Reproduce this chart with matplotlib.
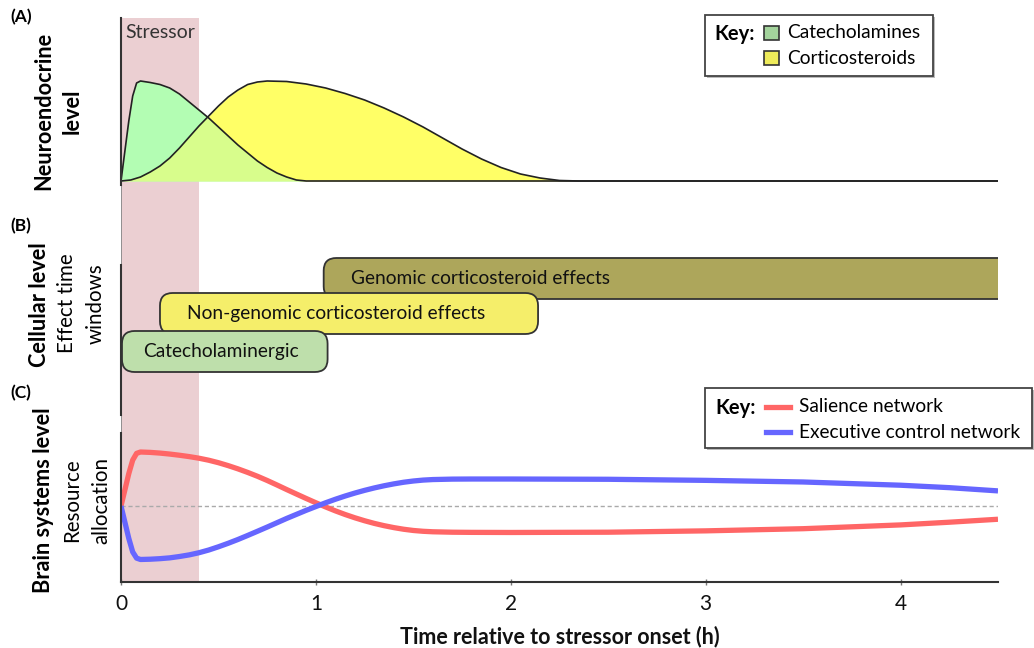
import matplotlib
matplotlib.use("Agg")
import matplotlib.pyplot as plt
from matplotlib.patches import FancyBboxPatch, Rectangle
from matplotlib.lines import Line2D

plt.rcParams['font.family'] = ['Lato', 'DejaVu Sans']

# ---- data ----
stressor_end = 0.4   # h

# (A) neuroendocrine levels (relative units)
cate_t = [0, 0.02, 0.04, 0.06, 0.08, 0.1, 0.15, 0.2, 0.25, 0.3, 0.35, 0.4, 0.45, 0.5,
          0.55, 0.6, 0.65, 0.7, 0.75, 0.8, 0.85, 0.9, 0.95, 4.5]
cate_v = [0, 0.30, 0.60, 0.85, 0.98, 1.0, 0.985, 0.965, 0.93, 0.87, 0.79, 0.71, 0.63, 0.54,
          0.45, 0.36, 0.28, 0.20, 0.135, 0.08, 0.04, 0.01, 0.0, 0.0]
cort_t = [0, 0.05, 0.1, 0.15, 0.2, 0.25, 0.3, 0.35, 0.4, 0.45, 0.5, 0.55, 0.6, 0.65, 0.7,
          0.75, 0.85, 0.95, 1.05, 1.15, 1.25, 1.35, 1.45, 1.55, 1.65, 1.75, 1.85, 1.95,
          2.05, 2.15, 2.25, 2.35, 4.5]
cort_v = [0, 0.01, 0.04, 0.09, 0.15, 0.23, 0.33, 0.44, 0.55, 0.65, 0.75, 0.84, 0.91, 0.965, 0.99,
          1.0, 0.995, 0.97, 0.93, 0.875, 0.81, 0.73, 0.64, 0.54, 0.43, 0.32, 0.22, 0.135,
          0.07, 0.03, 0.005, 0.0, 0.0]

# (B) effect time windows
window_names = ["Genomic corticosteroid effects", "Non-genomic corticosteroid effects", "Catecholaminergic"]
window_start = [1.04, 0.2, 0.005]
window_end = [4.7, 2.14, 1.06]

# (C) resource allocation
net_t = [0, 0.02, 0.04, 0.06, 0.08, 0.1, 0.15, 0.2, 0.25, 0.3, 0.35, 0.4, 0.45, 0.5,
         0.55, 0.6, 0.65, 0.7, 0.75, 0.8, 0.85, 0.9, 0.95, 1.0, 1.05, 1.1, 1.15, 1.2,
         1.25, 1.3, 1.35, 1.4, 1.45, 1.5, 1.55, 1.6, 1.7, 1.8, 2.0, 2.5, 3.0, 3.5,
         4.0, 4.25, 4.5]
salience = [0, 0.30, 0.60, 0.85, 0.975, 1.0, 0.993, 0.98, 0.962, 0.94, 0.915, 0.885, 0.848, 0.802,
            0.748, 0.688, 0.622, 0.551, 0.473, 0.39, 0.305, 0.222, 0.14, 0.06, -0.017, -0.09, -0.157, -0.218,
            -0.273, -0.322, -0.364, -0.40, -0.43, -0.453, -0.468, -0.477, -0.485, -0.488, -0.49, -0.485, -0.46, -0.42,
            -0.35, -0.30, -0.245]
executive = [0, -0.30, -0.60, -0.85, -0.965, -0.99, -0.985, -0.975, -0.96, -0.935, -0.905, -0.865, -0.815, -0.755,
             -0.69, -0.62, -0.545, -0.468, -0.39, -0.31, -0.23, -0.155, -0.08, -0.01, 0.06, 0.125, 0.185, 0.24,
             0.29, 0.335, 0.375, 0.41, 0.44, 0.463, 0.48, 0.49, 0.498, 0.50, 0.50, 0.495, 0.475, 0.445,
             0.385, 0.34, 0.28]

# colours
band_c = '#ebcfd2'
green_c, yellow_c, mix_c = '#b3fdb3', '#ffff66', '#d8fd8c'
box_c = ['#ada65b', '#f5ee6a', '#bedfab']
red_c, blue_c = '#ff6666', '#6666ff'
spine_c = '#333333'

W, H = 1034, 648
fig = plt.figure(figsize=(W / 100, H / 100), dpi=100)


def px_axes(top, bottom, left=121, right=998):
    return fig.add_axes([left / W, 1 - bottom / H, (right - left) / W, (bottom - top) / H])


def fig_text(px, py, s, **kw):
    fig.text(px / W, 1 - py / H, s, **kw)


# stressor band behind everything
bg = px_axes(18, 582)
bg.set_xlim(0, 4.5)
bg.set_ylim(0, 1)
bg.axvspan(0, stressor_end, color=band_c, lw=0)
bg.axvline(0, color='#8a8a8a', lw=1.3)
bg.axis('off')
bg.text(0.02, (582 - 32) / 564, "Stressor", fontsize=14, color='#333333', va='center', ha='left')

# ---- (A) ----
axA = px_axes(18, 185)
axA.set_xlim(0, 4.5)
axA.set_ylim(-0.04, 1.63)
axA.set_facecolor('none')
cort_fill = axA.fill_between(cort_t, cort_v, color=yellow_c, lw=0)
axA.fill_between(cate_t, cate_v, color=green_c, lw=0)
# where both hormones are up: catecholamine area clipped to the corticosteroid area
mix_fill = axA.fill_between(cate_t, cate_v, color=mix_c, lw=0)
mix_fill.set_clip_path(cort_fill.get_paths()[0], cort_fill.get_transform())
axA.plot(cort_t, cort_v, color='#222222', lw=1.2)
axA.plot(cate_t, cate_v, color='#222222', lw=1.2)
for s in ['top', 'right', 'bottom']:
    axA.spines[s].set_visible(False)
axA.spines['left'].set_color(spine_c)
axA.spines['left'].set_linewidth(1.5)
axA.set_xticks([])
axA.set_yticks([])

# ---- (B) ----
axB = px_axes(250, 415)
axB.set_xlim(0, 4.5)
axB.set_ylim(415, 250)
axB.set_facecolor('none')
row_top = [258, 293, 331]
row_h = 41
for name, s, e, top, c in zip(window_names, window_start, window_end, row_top, box_c):
    box = FancyBboxPatch((s, top), e - s, row_h,
                         boxstyle="round,pad=0,rounding_size=0.065",
                         mutation_aspect=195, fc=c, ec='#333333', lw=1.3)
    axB.add_patch(box)
    axB.text(s + 0.14 if s > 0.1 else s + 0.11, top + row_h / 2, name,
             fontsize=13.8, va='center', ha='left', color='#111111')
for s in ['top', 'right', 'bottom']:
    axB.spines[s].set_visible(False)
axB.spines['left'].set_bounds(415, 265)
axB.spines['left'].set_color(spine_c)
axB.spines['left'].set_linewidth(1.5)
axB.set_xticks([])
axB.set_yticks([])

# ---- (C) ----
axC = px_axes(433, 582)
axC.set_xlim(0, 4.5)
axC.set_ylim(-1.407, 1.352)
axC.set_facecolor('none')
axC.axhline(0, color='#aaaaaa', lw=1, ls=(0, (3, 2)))
axC.plot(net_t, salience, color=red_c, lw=3.8, solid_capstyle='butt', solid_joinstyle='round')
axC.plot(net_t, executive, color=blue_c, lw=3.8, solid_capstyle='butt', solid_joinstyle='round')
for s in ['top', 'right']:
    axC.spines[s].set_visible(False)
for s in ['left', 'bottom']:
    axC.spines[s].set_color(spine_c)
    axC.spines[s].set_linewidth(1.5)
axC.set_yticks([])
axC.set_xticks([0, 1, 2, 3, 4])
axC.tick_params(axis='x', direction='inout', length=4, width=1, color='#777777',
                labelsize=15, pad=7, labelcolor='#111111')
axC.set_xlabel("Time relative to stressor onset (h)", fontsize=15.5, fontweight='bold',
               labelpad=8, color='#111111')

# ---- panel labels ----
fig_text(10, 17, "(A)", fontsize=12.5, fontweight='bold', va='center', ha='left')
fig_text(10, 226, "(B)", fontsize=12.5, fontweight='bold', va='center', ha='left')
fig_text(10, 393, "(C)", fontsize=12.5, fontweight='bold', va='center', ha='left')
fig_text(44, 111, "Neuroendocrine", fontsize=15.7, fontweight='bold', rotation=90, va='center', ha='center')
fig_text(72, 111, "level", fontsize=15.7, fontweight='bold', rotation=90, va='center', ha='center')
fig_text(40, 305, "Cellular level", fontsize=15.7, fontweight='bold', rotation=90, va='center', ha='center')
fig_text(67, 303, "Effect time", fontsize=14.8, rotation=90, va='center', ha='center')
fig_text(96, 304, "windows", fontsize=14.8, rotation=90, va='center', ha='center')
fig_text(44, 500, "Brain systems level", fontsize=15.7, fontweight='bold', rotation=90, va='center', ha='center')
fig_text(72, 500, "Resource", fontsize=14.8, rotation=90, va='center', ha='center')
fig_text(101, 501, "allocation", fontsize=14.8, rotation=90, va='center', ha='center')


# ---- keys ----
def key_box(x0, y0, x1, y1):
    fig.add_artist(Rectangle((x0 / W + 0.002, 1 - y1 / H - 0.003), (x1 - x0) / W, (y1 - y0) / H,
                             transform=fig.transFigure, fc='#bbbbbb', ec='none', zorder=5))
    fig.add_artist(Rectangle((x0 / W, 1 - y1 / H), (x1 - x0) / W, (y1 - y0) / H,
                             transform=fig.transFigure, fc='white', ec='#444444', lw=1.3, zorder=6))


key_box(705, 15, 933, 76)
fig_text(714, 34, "Key:", fontsize=14.5, fontweight='bold', va='center', ha='left', zorder=7)
for py, label, c in [(33, "Catecholamines", '#a3d39c'), (58, "Corticosteroids", '#eeeb5a')]:
    fig.add_artist(Rectangle((764 / W, 1 - (py + 7) / H), 15 / W, 14 / H, transform=fig.transFigure,
                             fc=c, ec='#333333', lw=1.2, zorder=7))
    fig_text(787, py, label, fontsize=13.8, va='center', ha='left', zorder=7)

key_box(705, 388, 1032, 448)
fig_text(715, 408, "Key:", fontsize=14.5, fontweight='bold', va='center', ha='left', zorder=7)
for py, label, c in [(407, "Salience network", red_c), (432, "Executive control network", blue_c)]:
    fig.add_artist(Line2D([766 / W, 790 / W], [1 - py / H, 1 - py / H], transform=fig.transFigure,
                          color=c, lw=3.8, zorder=7))
    fig_text(799, py, label, fontsize=13.8, va='center', ha='left', zorder=7)

fig.savefig("out.png", dpi=100)
